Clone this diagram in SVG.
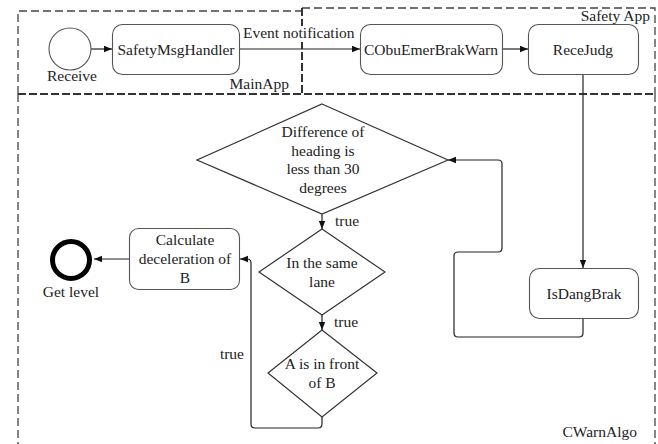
<svg xmlns="http://www.w3.org/2000/svg" width="658" height="444" viewBox="0 0 658 444" font-family="'Liberation Serif', 'DejaVu Serif', serif">
  <style>
    text { font-family: "Liberation Serif", "DejaVu Serif", serif; font-size: 15.5px; fill: #222; }
    .mid { text-anchor: middle; }
    .end { text-anchor: end; }
    .box { fill: #fff; stroke: #555; stroke-width: 1.1; }
    .dia { fill: #fff; stroke: #333; stroke-width: 1.2; }
    .frame { fill: none; stroke: #444; stroke-width: 1.3; stroke-dasharray: 8 4; }
    .split { fill: none; stroke: #333; stroke-width: 2; stroke-dasharray: 8 3; }
    .edge { fill: none; stroke: #222; stroke-width: 1.2; stroke-linejoin: round; }
    .arrow { marker-end: url(#head); }
  </style>
  <defs>
    <marker id="head" viewBox="0 0 10 10" refX="10" refY="5" markerWidth="8" markerHeight="8" markerUnits="userSpaceOnUse" orient="auto">
      <path d="M0,1 L10,5 L0,9 Z" fill="#111"/>
    </marker>
  </defs>
  <rect width="658" height="444" fill="#fff"/>

  <!-- containers -->
  <g id="mainapp-frame">
    <path class="frame" d="M18,94 L18,11 L302,11"/>
    <text class="end" x="289" y="89">MainApp</text>
  </g>
  <g id="safetyapp-frame">
    <path class="frame" d="M302,8 L655,8 L655,94"/>
    <path class="split" d="M302,8 L302,94"/>
    <text class="end" x="650" y="21">Safety App</text>
  </g>
  <g id="cwarnalgo-frame">
    <path class="frame" d="M18,94 L18,444 M655,94 L655,444"/>
    <path class="split" d="M18,94 L655,94"/>
    <text class="end" x="637" y="437">CWarnAlgo</text>
  </g>

  <!-- connectors -->
  <g id="connectors">
    <path class="edge arrow" d="M91,49 L112,49"/>
    <rect x="242" y="26" width="113" height="16" fill="#fff"/>
    <path class="edge arrow" d="M240,49 L360,49"/>
    <text x="243" y="38">Event notification</text>
    <path class="edge arrow" d="M503,49 L528,49"/>
    <path class="edge arrow" d="M583,74 L583,268"/>
    <path class="edge arrow" d="M583,319 L583,333 Q583,337 579,337 L458,337 Q454,337 454,333 L454,256 Q454,252 458,252 L498,252 Q502,252 502,248 L502,164 Q502,160 498,160 L448,160"/>
    <path class="edge arrow" d="M322,214 L322,229"/>
    <text x="335" y="226">true</text>
    <path class="edge arrow" d="M322,315 L322,330"/>
    <text x="334" y="327">true</text>
    <path class="edge arrow" d="M322,417 L322,424 Q322,428 318,428 L255,428 Q251,428 251,424 L251,263 Q251,259 247,259 L240,259"/>
    <text class="end" x="244" y="359">true</text>
    <path class="edge arrow" d="M129,259 L94,259"/>
  </g>

  <!-- nodes -->
  <g id="receive">
    <circle cx="70" cy="49" r="21" fill="#fff" stroke="#555" stroke-width="1.1"/>
    <text class="mid" x="72" y="81">Receive</text>
  </g>
  <g id="safetymsghandler">
    <rect class="box" x="112.5" y="24.5" width="127" height="50" rx="10"/>
    <text class="mid" x="176" y="55">SafetyMsgHandler</text>
  </g>
  <g id="cobuemerbrakwarn">
    <rect class="box" x="360.5" y="24.5" width="142" height="50" rx="10"/>
    <text class="mid" x="431" y="55">CObuEmerBrakWarn</text>
  </g>
  <g id="recejudg">
    <rect class="box" x="528.5" y="24.5" width="110" height="50" rx="10"/>
    <text class="mid" x="583" y="55">ReceJudg</text>
  </g>
  <g id="isdangbrak">
    <rect class="box" x="529.5" y="268.5" width="109" height="50" rx="10"/>
    <text class="mid" x="584" y="299">IsDangBrak</text>
  </g>
  <g id="heading-check">
    <polygon class="dia" points="322,104 448,160 322,214 197,160"/>
    <text class="mid" x="323" y="137">Difference of</text>
    <text class="mid" x="323" y="155.5">heading is</text>
    <text class="mid" x="323" y="174">less than 30</text>
    <text class="mid" x="323" y="192.5">degrees</text>
  </g>
  <g id="lane-check">
    <polygon class="dia" points="322,229 385,272 322,315 259,272"/>
    <text class="mid" x="322" y="268">In the same</text>
    <text class="mid" x="322" y="287">lane</text>
  </g>
  <g id="front-check">
    <polygon class="dia" points="322,330 377,373 322,417 268,373"/>
    <text class="mid" x="322" y="369">A is in front</text>
    <text class="mid" x="322" y="388">of B</text>
  </g>
  <g id="calculate">
    <rect class="box" x="129.5" y="228.5" width="110" height="61" rx="9"/>
    <text class="mid" x="185" y="245">Calculate</text>
    <text class="mid" x="185" y="264">deceleration of</text>
    <text class="mid" x="185" y="282.5">B</text>
  </g>
  <g id="get-level">
    <circle cx="71" cy="260" r="18.5" fill="#fff" stroke="#000" stroke-width="5"/>
    <text class="mid" x="71" y="297">Get level</text>
  </g>
</svg>
